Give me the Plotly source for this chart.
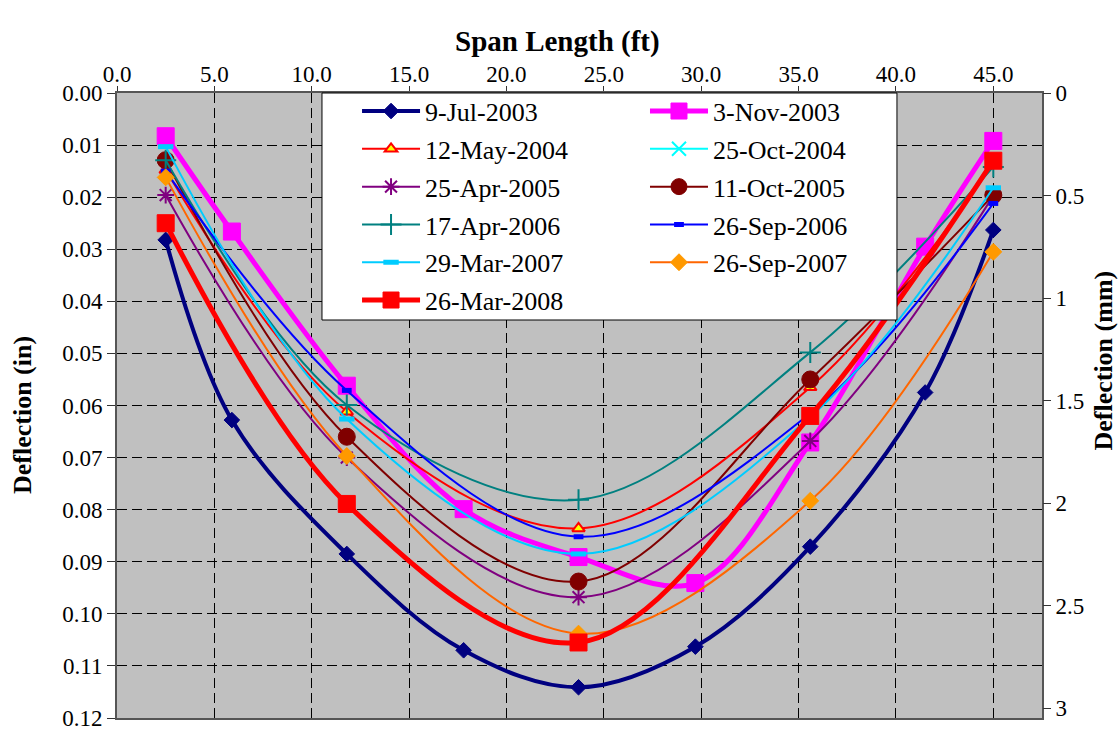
import plotly.graph_objects as go

# Gauge stations along the span (ft)
stations_full = [2.5, 5.9, 11.8, 17.8, 23.7, 29.7, 35.6, 41.5, 45.0]
stations_five = [2.5, 11.8, 23.7, 35.6, 45.0]

# Measured deflections (in)
jul_2003 = [0.0282, 0.0628, 0.0885, 0.1070, 0.1141, 0.1063, 0.0871, 0.0575, 0.0263]
nov_2003 = [0.0083, 0.0266, 0.0562, 0.0799, 0.0891, 0.0941, 0.0671, 0.0295, 0.0092]
may_2004 = [0.0148, 0.0612, 0.0836, 0.0565, 0.0135]
oct_2004 = [0.0250, 0.0789, 0.1055, 0.0620, 0.0130]
apr_2005 = [0.0196, 0.0700, 0.0968, 0.0668, 0.0197]
oct_2005 = [0.0129, 0.0660, 0.0938, 0.0550, 0.0196]
apr_2006 = [0.0129, 0.0599, 0.0781, 0.0498, 0.0142]
sep_2006 = [0.0150, 0.0571, 0.0852, 0.0615, 0.0212]
mar_2007 = [0.0103, 0.0626, 0.0885, 0.0622, 0.0182]
sep_2007 = [0.0162, 0.0697, 0.1038, 0.0783, 0.0305]
mar_2008 = [0.0250, 0.0789, 0.1055, 0.0620, 0.0130]

x_ticks = [0, 5, 10, 15, 20, 25, 30, 35, 40, 45]
mm_ticks = [0, 0.5, 1, 1.5, 2, 2.5, 3]

FONT = "Liberation Serif, Times New Roman, serif"
IN_MAX = 0.12

# name, x, y, line colour, line width, marker symbol, size, fill, edge colour, edge width, legend
series = [
    ("9-Jul-2003", stations_full, jul_2003, "#000080", 4, "diamond", 12, "#000080", "#000080", 1, "legend"),
    ("3-Nov-2003", stations_full, nov_2003, "#FF00FF", 5, "square", 17, "#FF00FF", "#FF00FF", 1, "legend2"),
    ("12-May-2004", stations_five, may_2004, "#FF0000", 2, "triangle-up", 11, "#FFFF00", "#FF0000", 2, "legend"),
    ("25-Oct-2004", stations_five, oct_2004, "#00FFFF", 2, "x-thin", 14, "#00FFFF", "#00FFFF", 2, "legend2"),
    ("25-Apr-2005", stations_five, apr_2005, "#800080", 2, "asterisk", 14, "#800080", "#800080", 2, "legend"),
    ("11-Oct-2005", stations_five, oct_2005, "#800000", 2, "circle", 17, "#800000", "#800000", 1, "legend2"),
    ("17-Apr-2006", stations_five, apr_2006, "#008080", 2, "cross-thin", 15, "#008080", "#008080", 2, "legend"),
    ("26-Sep-2006", stations_five, sep_2006, "#0000FF", 2, "line-ew", 7, "#0000FF", "#0000FF", 5, "legend2"),
    ("29-Mar-2007", stations_five, mar_2007, "#00CCFF", 2, "line-ew", 11, "#00CCFF", "#00CCFF", 5, "legend"),
    ("26-Sep-2007", stations_five, sep_2007, "#FF6600", 2, "diamond", 13, "#FF9900", "#FF9900", 1, "legend2"),
    ("26-Mar-2008", stations_five, mar_2008, "#FF0000", 5, "square", 17, "#FF0000", "#FF0000", 1, "legend"),
]

fig = go.Figure()
for i, (name, xs, ys, lc, lw, sym, ms, fill, edge, ew, leg) in enumerate(series):
    fig.add_trace(go.Scatter(
        x=xs, y=ys, name=name, mode="lines+markers",
        line=dict(color=lc, width=lw, shape="spline", smoothing=1),
        marker=dict(symbol=sym, size=ms, color=fill, line=dict(color=edge, width=ew)),
        legend=leg, legendgroup=f"g{i}",
    ))

# Empty trace so the millimetre axis is rendered
fig.add_trace(go.Scatter(x=[], y=[], yaxis="y2", showlegend=False, hoverinfo="skip"))

grid = dict(showgrid=True, gridcolor="black", gridwidth=1, griddash="10px,5px")

fig.update_layout(
    width=1118, height=731, autosize=False,
    margin=dict(l=117, r=76, t=93, b=13, autoexpand=False),
    paper_bgcolor="white", plot_bgcolor="#C0C0C0",
    font=dict(family=FONT, size=23, color="black"),
    xaxis=dict(range=[0, 47.5], side="top", tickvals=x_ticks, tickformat=".1f",
               ticks="outside", ticklen=5, tickcolor="#333", ticklabelstandoff=-5,
               showline=True, mirror=True,
               linecolor="#555555", linewidth=2, zeroline=False, **grid),
    yaxis=dict(range=[IN_MAX, 0], dtick=0.01, tickformat=".2f", ticks="outside",
               ticklen=8, tickcolor="#333", ticklabeloverflow="allow",
               showline=True, mirror=True,
               linecolor="#555555", linewidth=2, zeroline=False, **grid),
    yaxis2=dict(range=[IN_MAX * 25.4, 0], overlaying="y", side="right",
                tickvals=mm_ticks, ticktext=[f"{v:g}" for v in mm_ticks],
                ticks="outside", ticklen=8, tickcolor="#333", showgrid=False,
                ticklabeloverflow="allow", zeroline=False, showline=False),
    legend=dict(x=0.2595, xanchor="left", y=1.0086, yanchor="top",
                bgcolor="rgba(0,0,0,0)", borderwidth=0, itemwidth=58,
                tracegroupgap=1, font=dict(family=FONT, size=26)),
    legend2=dict(x=0.5708, xanchor="left", y=1.0086, yanchor="top",
                 bgcolor="rgba(0,0,0,0)", borderwidth=0, itemwidth=58,
                 tracegroupgap=1, font=dict(family=FONT, size=26)),
    shapes=[dict(type="rect", xref="paper", yref="paper",
                 x0=0.2216, x1=0.8432, y0=0.6368, y1=1.0,
                 fillcolor="white", line=dict(color="black", width=1), layer="above")],
    annotations=[
        dict(text="<b>Span Length (ft)</b>", xref="paper", yref="paper",
             x=0.4757, y=1.0832, xanchor="center", yanchor="middle",
             showarrow=False, font=dict(family=FONT, size=29)),
        dict(text="<b>Deflection (in)</b>", xref="paper", yref="paper",
             x=-0.1027, y=0.4848, xanchor="center", yanchor="middle", textangle=-90,
             showarrow=False, font=dict(family=FONT, size=26)),
        dict(text="<b>Deflection (mm)</b>", xref="paper", yref="paper",
             x=1.066, y=0.572, xanchor="center", yanchor="middle", textangle=-90,
             showarrow=False, font=dict(family=FONT, size=26)),
    ],
)

fig.write_html("out.html")
